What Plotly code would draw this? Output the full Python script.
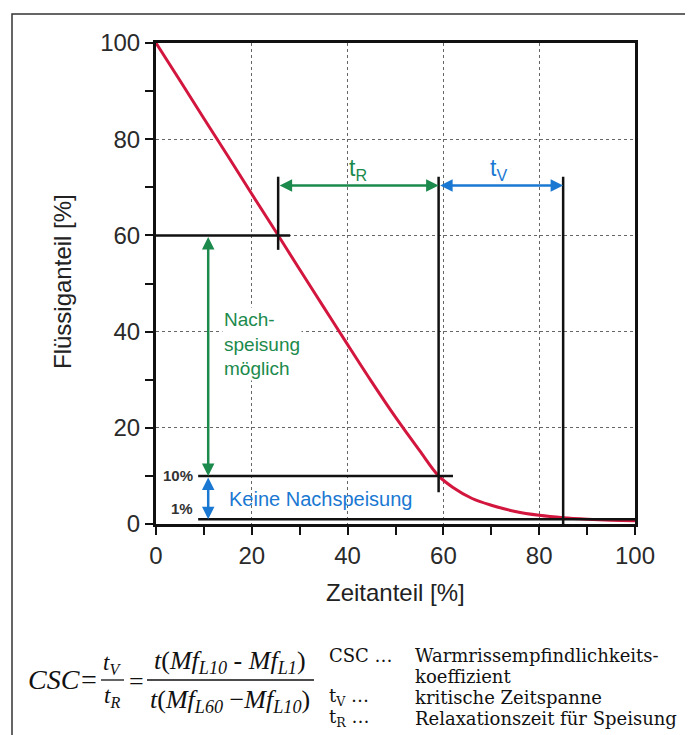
import plotly.graph_objects as go

# ---------------- data ----------------
time_pct = [0, 5, 10, 15, 20, 25, 30, 35, 40, 45, 50, 55, 59, 62, 66, 70, 75, 80, 85, 90, 95, 100]
liquid_pct = [100, 92.2, 84.3, 76.5, 68.6, 60.8, 52.9, 45.1, 37.3, 29.6, 22.2, 15.3, 10.0,
              7.6, 5.3, 3.9, 2.6, 1.8, 1.3, 1.0, 0.8, 0.7]

levels = [60, 10, 1]                 # Mf_L60, Mf_L10, Mf_L1  [%]
level_times = [25.5, 59.0, 85.0]     # time share at these liquid levels [%]
x_ticks = [0, 20, 40, 60, 80, 100]
y_ticks = [0, 20, 40, 60, 80, 100]

RED = "#d3163e"
GREEN = "#1b8a4c"
BLUE = "#1a78d2"
SANS = "Arial, Liberation Sans, sans-serif"
SERIF = "Liberation Serif, Times New Roman, serif"
SERIF2 = "DejaVu Serif, serif"

OFF = 8                      # page body margin of the html page
W, H = 693 - OFF, 735 - OFF  # figure size so that it fills the window
# plot area in window pixels
L, R, T, B = 156, 635, 43, 524


def px_x(px):
    return (px - L) / (R - L)


def px_y(py):
    return (B - py) / (B - T)


fig = go.Figure()
fig.add_trace(go.Scatter(x=time_pct, y=liquid_pct, mode="lines",
                         line=dict(color=RED, width=3, shape="spline"),
                         hoverinfo="skip", showlegend=False))

t60, t10, t1 = level_times
l60, l10, l1 = levels
top_mark = 72.2
arrow_y = 70.4
arrow_x = 10.9

shapes = []
blk = dict(color="#111", width=2.5)
# horizontal level lines
shapes.append(dict(type="line", xref="x", yref="y", x0=0, x1=28, y0=l60, y1=l60, line=blk))
shapes.append(dict(type="line", xref="x", yref="y", x0=8.8, x1=62, y0=l10, y1=l10, line=blk))
shapes.append(dict(type="line", xref="x", yref="y", x0=8.8, x1=100, y0=l1, y1=l1, line=blk))
# vertical marker lines
shapes.append(dict(type="line", xref="x", yref="y", x0=t60, x1=t60, y0=57, y1=top_mark, line=blk))
shapes.append(dict(type="line", xref="x", yref="y", x0=t10, x1=t10, y0=6.6, y1=top_mark, line=blk))
shapes.append(dict(type="line", xref="x", yref="y", x0=t1, x1=t1, y0=0, y1=top_mark, line=blk))
# outer frame of the figure
shapes.append(dict(type="rect", xref="paper", yref="paper",
                   x0=px_x(12), x1=px_x(688), y0=px_y(780), y1=px_y(14),
                   line=dict(color="#333", width=1.5), layer="below"))
# fraction bars
shapes.append(dict(type="line", xref="paper", yref="paper", x0=px_x(101), x1=px_x(124),
                   y0=px_y(680), y1=px_y(680), line=dict(color="#111", width=1.3)))
shapes.append(dict(type="line", xref="paper", yref="paper", x0=px_x(147), x1=px_x(314),
                   y0=px_y(680), y1=px_y(680), line=dict(color="#111", width=1.3)))

ann = []


def arrow(x0, y0, x1, y1, color):
    ann.append(dict(x=x1, y=y1, ax=x0, ay=y0, xref="x", yref="y", axref="x", ayref="y",
                    text="", showarrow=True, arrowhead=2, startarrowhead=2,
                    arrowside="end+start", arrowsize=1, startarrowsize=1,
                    arrowwidth=2.5, arrowcolor=color, standoff=0, startstandoff=0))


arrow(t60, arrow_y, t10, arrow_y, GREEN)
arrow(t10, arrow_y, t1, arrow_y, BLUE)
arrow(arrow_x, l60, arrow_x, l10, GREEN)
arrow(arrow_x, l10, arrow_x, l1, BLUE)

ann.append(dict(x=(t60 + t10) / 2, y=73.8, xref="x", yref="y", showarrow=False,
                text="t<sub>R</sub>", font=dict(family=SANS, size=23, color=GREEN)))
ann.append(dict(x=71.5, y=73.8, xref="x", yref="y", showarrow=False,
                text="t<sub>V</sub>", font=dict(family=SANS, size=23, color=BLUE)))
ann.append(dict(x=13.8, y=37.5, xref="x", yref="y", showarrow=False, xanchor="left",
                yanchor="middle", align="left", text="Nach-<br>speisung<br>möglich",
                bgcolor="white", font=dict(family=SANS, size=19, color=GREEN)))
ann.append(dict(x=14.9, y=5.3, xref="x", yref="y", showarrow=False, xanchor="left",
                yanchor="middle", text="Keine Nachspeisung",
                font=dict(family=SANS, size=20, color=BLUE)))
ann.append(dict(x=8.2, y=l10, xref="x", yref="y", showarrow=False, xanchor="right",
                yanchor="middle", text="<b>10%</b>", font=dict(family=SANS, size=15, color="#333")))
ann.append(dict(x=8.2, y=l1, xref="x", yref="y", showarrow=False, xanchor="right",
                yanchor="bottom", text="<b>1%</b>", font=dict(family=SANS, size=15, color="#333")))

# axis titles
ann.append(dict(x=px_x(395), y=px_y(592), xref="paper", yref="paper", showarrow=False,
                xanchor="center", yanchor="middle",
                text="Zeitanteil [%]", font=dict(family=SANS, size=24, color="#222")))
ann.append(dict(x=px_x(62), y=px_y(282), xref="paper", yref="paper", showarrow=False,
                xanchor="center", yanchor="middle",
                textangle=-90, text="Flüssiganteil [%]",
                font=dict(family=SANS, size=24, color="#222")))


# formula
def ptxt(px, py, text, size, family=SERIF, xanchor="center"):
    ann.append(dict(x=px_x(px), y=px_y(py), xref="paper", yref="paper", showarrow=False,
                    xanchor=xanchor, yanchor="middle", text=text,
                    font=dict(family=family, size=size, color="#111")))


ptxt(26, 679, "<i>CSC=</i>", 28, xanchor="left")
ptxt(112, 664, "<i>t<sub>V</sub></i>", 23)
ptxt(112, 697, "<i>t<sub>R</sub></i>", 23)
ptxt(136, 681, "=", 26)
ptxt(230, 662, "<i>t</i>(<i>Mf<sub>L10</sub></i> - <i>Mf<sub>L1</sub></i>)", 26)
ptxt(230, 701, "<i>t</i>(<i>Mf<sub>L60</sub></i> −<i>Mf<sub>L10</sub></i>)", 26)

# legend of symbols
FS = 18
ptxt(327, 655, "CSC …", FS, family=SERIF2, xanchor="left")
ptxt(413, 655, "Warmrissempfindlichkeits-", FS, family=SERIF2, xanchor="left")
ptxt(413, 676, "koeffizient", FS, family=SERIF2, xanchor="left")
ptxt(327, 697, "t<sub>V</sub> …", FS, family=SERIF2, xanchor="left")
ptxt(413, 697, "kritische Zeitspanne", FS, family=SERIF2, xanchor="left")
ptxt(327, 718, "t<sub>R</sub> …", FS, family=SERIF2, xanchor="left")
ptxt(413, 718, "Relaxationszeit für Speisung", FS, family=SERIF2, xanchor="left")

axis_common = dict(
    showline=True, linecolor="#111", linewidth=3, mirror=True,
    ticks="outside", ticklen=8, tickwidth=2, tickcolor="#111",
    showgrid=True, gridcolor="#666", gridwidth=1.3, griddash="dot",
    zeroline=False, tickfont=dict(family=SANS, size=24, color="#2a2a2a"),
    minor=dict(ticks="outside", ticklen=8, tickwidth=2, tickcolor="#111",
               showgrid=False, dtick=10),
)

fig.update_layout(
    width=W, height=H,
    margin=dict(l=L - OFF, r=W - (R - OFF), t=T - OFF, b=H - (B - OFF), pad=0),
    paper_bgcolor="white", plot_bgcolor="white",
    xaxis=dict(range=[0, 100], tickvals=x_ticks, ticktext=[str(v) for v in x_ticks],
               **axis_common),
    yaxis=dict(range=[0, 100], tickvals=y_ticks, ticktext=[str(v) for v in y_ticks],
               **axis_common),
    shapes=shapes, annotations=ann, showlegend=False,
)

fig.write_html("out.html")
